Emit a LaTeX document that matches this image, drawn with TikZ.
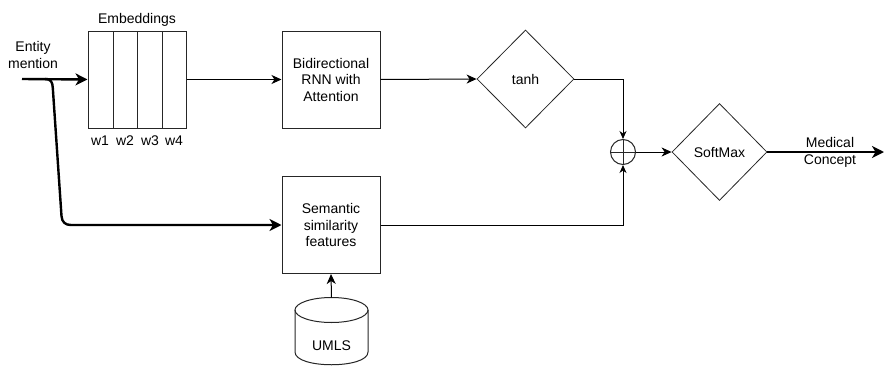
\documentclass[tikz,border=0pt]{standalone}
\usepackage{fontspec}
\setmainfont{Liberation Sans}
\usetikzlibrary{arrows.meta,shapes.geometric}
\begin{document}
\begin{tikzpicture}[x=1pt,y=-1pt,
  lbl/.style={font=\fontsize{14}{16.5}\selectfont, align=center, inner sep=0pt},
  box/.style={draw=black!85, line width=1pt, minimum width=98pt, minimum height=97pt, inner sep=0pt, align=center, font=\fontsize{14}{16.5}\selectfont},
  dia/.style={diamond, draw=black!85, line width=0.8pt, inner sep=0pt, minimum width=97pt, minimum height=98pt, font=\fontsize{14}{16.5}\selectfont},
  thinarr/.style={line width=1pt, -{Stealth[length=10pt,width=9pt,inset=3pt]}},
  smallarr/.style={line width=1pt, -{Stealth[length=8pt,width=7pt,inset=2.5pt]}},
  thickarr/.style={line width=2.4pt, -{Stealth[length=12pt,width=12pt,inset=3.5pt]}}]
\useasboundingbox (0,0) rectangle (884,367);

% Embeddings
\node[box] (emb) at (137,79.5) {};
\foreach \xx in {113,137,162} \draw[draw=black!85, line width=1pt] (\xx,31) -- (\xx,128);
\node[lbl] (embl) at (137,20) {Embeddings};
\node[lbl] (w1) at (100,141) {w1};
\node[lbl] (w2) at (125,141) {w2};
\node[lbl] (w3) at (150,141) {w3};
\node[lbl] (w4) at (174,141) {w4};

% Entity mention
\node[lbl] (ent) at (33,55) {Entity\\mention};
\coordinate (start) at (22,79);
\coordinate (split) at (45,79);

% RNN
\node[box] (rnn) at (331,79.5) {Bidirectional\\RNN with\\Attention};
% Semantic
\node[box] (sem) at (331,225) {Semantic\\similarity\\features};
% tanh
\node[dia] (tanh) at (525.5,79) {tanh};
% plus
\node[circle, draw=black!85, line width=1pt, minimum size=25pt, inner sep=0pt] (plus) at (623,152) {};
\draw[black!85, line width=1pt] (plus.north) -- (plus.south) (plus.west) -- (plus.east);
% SoftMax
\node[dia, minimum width=95pt, minimum height=97pt] (soft) at (719.5,152) {SoftMax};
\coordinate (out) at (884,152);

% UMLS cylinder
\node[lbl, minimum width=73pt, minimum height=68pt] (umls) at (331.5,332) {};
\draw[black!85, line width=1pt] (295,310) -- (295,352) .. controls (295,369) and (368,369) .. (368,352) -- (368,310);
\draw[black!85, line width=1pt] (331.5,310) ellipse[x radius=36.5, y radius=12.5];
\node[lbl] (umlst) at (331.5,346) {UMLS};
\coordinate (umlstop) at (331.5,297.5);

% connectors
\draw[thickarr] (start) -- (emb.west);
\draw[thickarr, line join=round]
  (split) .. controls (51,79) and (52.5,82) .. (52.8,88) -- (61.5,216) .. controls (62,222) and (65,225) .. (71,225) -- (sem.west);
\draw[thinarr] (emb.east) -- (rnn.west);
\draw[thinarr] (rnn.east) -- (tanh.west);
\draw[smallarr] (tanh.east) -| (plus.north);
\draw[smallarr] (sem.east) -| (plus.south);
\draw[thinarr] (plus.east) -- (soft.west);
\draw[thickarr] (soft.east) -- (out);
\node[lbl] (med) at (830,142) {Medical};
\node[lbl] (con) at (830,161) {Concept};
\draw[thinarr] (umlstop) -- (sem.south);
\end{tikzpicture}
\end{document}
